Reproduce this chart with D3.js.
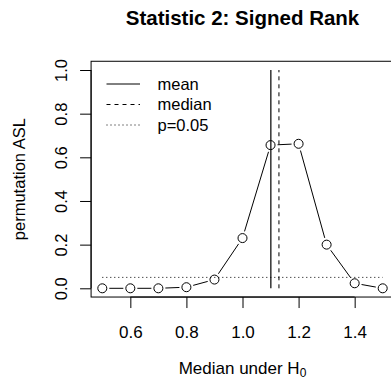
<!DOCTYPE html>
<html>
<head>
<meta charset="utf-8">
<script src="https://cdn.jsdelivr.net/npm/d3@7"></script>
<style>
  body { margin: 0; background: #fff; }
  svg { display: block; font-family: "Liberation Sans", Arial, sans-serif; }
</style>
</head>
<body>
<div id="chart"></div>
<script>
// values
var medians = [0.5, 0.6, 0.7, 0.8, 0.9, 1.0, 1.1, 1.2, 1.3, 1.4, 1.5];
var asl = [0.0, 0.0, 0.0, 0.005, 0.04, 0.23, 0.656, 0.662, 0.2, 0.023, 0.0];
var xTicks = [0.6, 0.8, 1.0, 1.2, 1.4];
var yTicks = [0.0, 0.2, 0.4, 0.6, 0.8, 1.0];
var meanValue = 1.101;
var medianValue = 1.13;
var alpha = 0.05;
var legendLabels = ["mean", "median", "p=0.05"];
var legendDash = [null, "4,4", "1,3"];

var width = 391, height = 380;

var svg = d3
  .select("#chart")
  .append("svg")
  .attr("width", width)
  .attr("height", height);

var x = d3.scaleLinear().domain([0.5, 1.5]).range([102.3, 382.7]);
var y = d3.scaleLinear().domain([0, 1]).range([288.3, 70]);

// R style 4% padding around data range
var box = { left: x(0.46), right: x(1.54), top: y(1.04), bottom: y(-0.04) };

// title
svg
  .append("text")
  .attr("x", (box.left + box.right) / 2)
  .attr("y", 24.5)
  .attr("text-anchor", "middle")
  .style("font-size", "20.5px")
  .style("font-weight", "bold")
  .text("Statistic 2: Signed Rank");

// x axis
var xAxis = svg
  .append("g")
  .attr("transform", "translate(0," + box.bottom + ")")
  .call(
    d3.axisBottom(x).tickValues(xTicks).tickSize(11).tickPadding(18)
      .tickFormat(d3.format(".1f"))
  );
xAxis.select(".domain").remove();
xAxis.selectAll("text").style("font-size", "17px").attr("fill", "#000");

// y axis, labels turned like R does
var yAxis = svg
  .append("g")
  .attr("transform", "translate(" + box.left + ",0)")
  .call(d3.axisLeft(y).tickValues(yTicks).tickSize(11).tickFormat(d3.format(".1f")));
yAxis.select(".domain").remove();
yAxis
  .selectAll("text")
  .attr("x", null)
  .attr("dy", "0.36em")
  .attr("text-anchor", "middle")
  .attr("transform", "translate(-30,0) rotate(-90)")
  .style("font-size", "16.5px")
  .attr("fill", "#000");

// axis lines from first to last tick
svg
  .append("line")
  .attr("x1", x(xTicks[0])).attr("x2", x(xTicks[xTicks.length - 1]))
  .attr("y1", box.bottom).attr("y2", box.bottom)
  .attr("stroke", "#000");
svg
  .append("line")
  .attr("x1", box.left).attr("x2", box.left)
  .attr("y1", y(yTicks[0])).attr("y2", y(yTicks[yTicks.length - 1]))
  .attr("stroke", "#000");

// plot frame
svg
  .append("rect")
  .attr("x", box.left)
  .attr("y", box.top)
  .attr("width", box.right - box.left)
  .attr("height", box.bottom - box.top)
  .attr("fill", "none")
  .attr("stroke", "#000");

// axis titles
var xl = svg
  .append("text")
  .attr("x", (box.left + box.right) / 2)
  .attr("y", 374)
  .attr("text-anchor", "middle")
  .style("font-size", "17px");
xl.append("tspan").text("Median under H");
xl.append("tspan").attr("dy", 3).style("font-size", "12px").text("0");

svg
  .append("text")
  .attr("transform", "translate(25," + (box.top + box.bottom) / 2 + ") rotate(-90)")
  .attr("text-anchor", "middle")
  .style("font-size", "16.5px")
  .text("permutation ASL");

// reference lines
svg
  .append("line")
  .attr("x1", x(meanValue)).attr("x2", x(meanValue))
  .attr("y1", y(0)).attr("y2", y(1))
  .attr("stroke", "#333")
  .attr("stroke-width", 1.5);
svg
  .append("line")
  .attr("x1", x(medianValue)).attr("x2", x(medianValue))
  .attr("y1", y(0)).attr("y2", y(1))
  .attr("stroke", "#000")
  .attr("stroke-dasharray", "4,4");
svg
  .append("line")
  .attr("x1", x(medians[0])).attr("x2", x(medians[medians.length - 1]))
  .attr("y1", y(alpha)).attr("y2", y(alpha))
  .attr("stroke", "#000")
  .attr("stroke-dasharray", "1,3");

// type "b": segments with gaps around the points
var r = 4.5, gap = r + 2.5;
var pts = medians.map(function (m, i) {
  return [x(m), y(asl[i])];
});
var segs = [];
for (var i = 0; i < pts.length - 1; i++) {
  var dx = pts[i + 1][0] - pts[i][0], dy = pts[i + 1][1] - pts[i][1];
  var len = Math.sqrt(dx * dx + dy * dy);
  if (len > 2 * gap) {
    segs.push([
      pts[i][0] + (dx * gap) / len, pts[i][1] + (dy * gap) / len,
      pts[i + 1][0] - (dx * gap) / len, pts[i + 1][1] - (dy * gap) / len,
    ]);
  }
}
svg
  .selectAll("line.seg")
  .data(segs)
  .enter()
  .append("line")
  .attr("class", "seg")
  .attr("x1", function (d) { return d[0]; })
  .attr("y1", function (d) { return d[1]; })
  .attr("x2", function (d) { return d[2]; })
  .attr("y2", function (d) { return d[3]; })
  .attr("stroke", "#000");

svg
  .selectAll("circle.pt")
  .data(medians)
  .enter()
  .append("circle")
  .attr("class", "pt")
  .attr("cx", function (d) { return x(d); })
  .attr("cy", function (d, i) { return y(asl[i]); })
  .attr("r", r)
  .attr("fill", "none")
  .attr("stroke", "#000");

// legend (no box)
var leg = svg
  .selectAll("g.leg")
  .data(legendLabels)
  .enter()
  .append("g")
  .attr("class", "leg")
  .attr("transform", function (d, i) {
    return "translate(0," + (84 + i * 20.5) + ")";
  });
leg
  .append("line")
  .attr("x1", 106.5).attr("x2", 140)
  .attr("stroke", "#000")
  .attr("stroke-dasharray", function (d, i) { return legendDash[i]; });
leg
  .append("text")
  .attr("x", 157.5)
  .attr("dy", "0.36em")
  .style("font-size", "16.5px")
  .text(function (d) { return d; });
</script>
</body>
</html>
